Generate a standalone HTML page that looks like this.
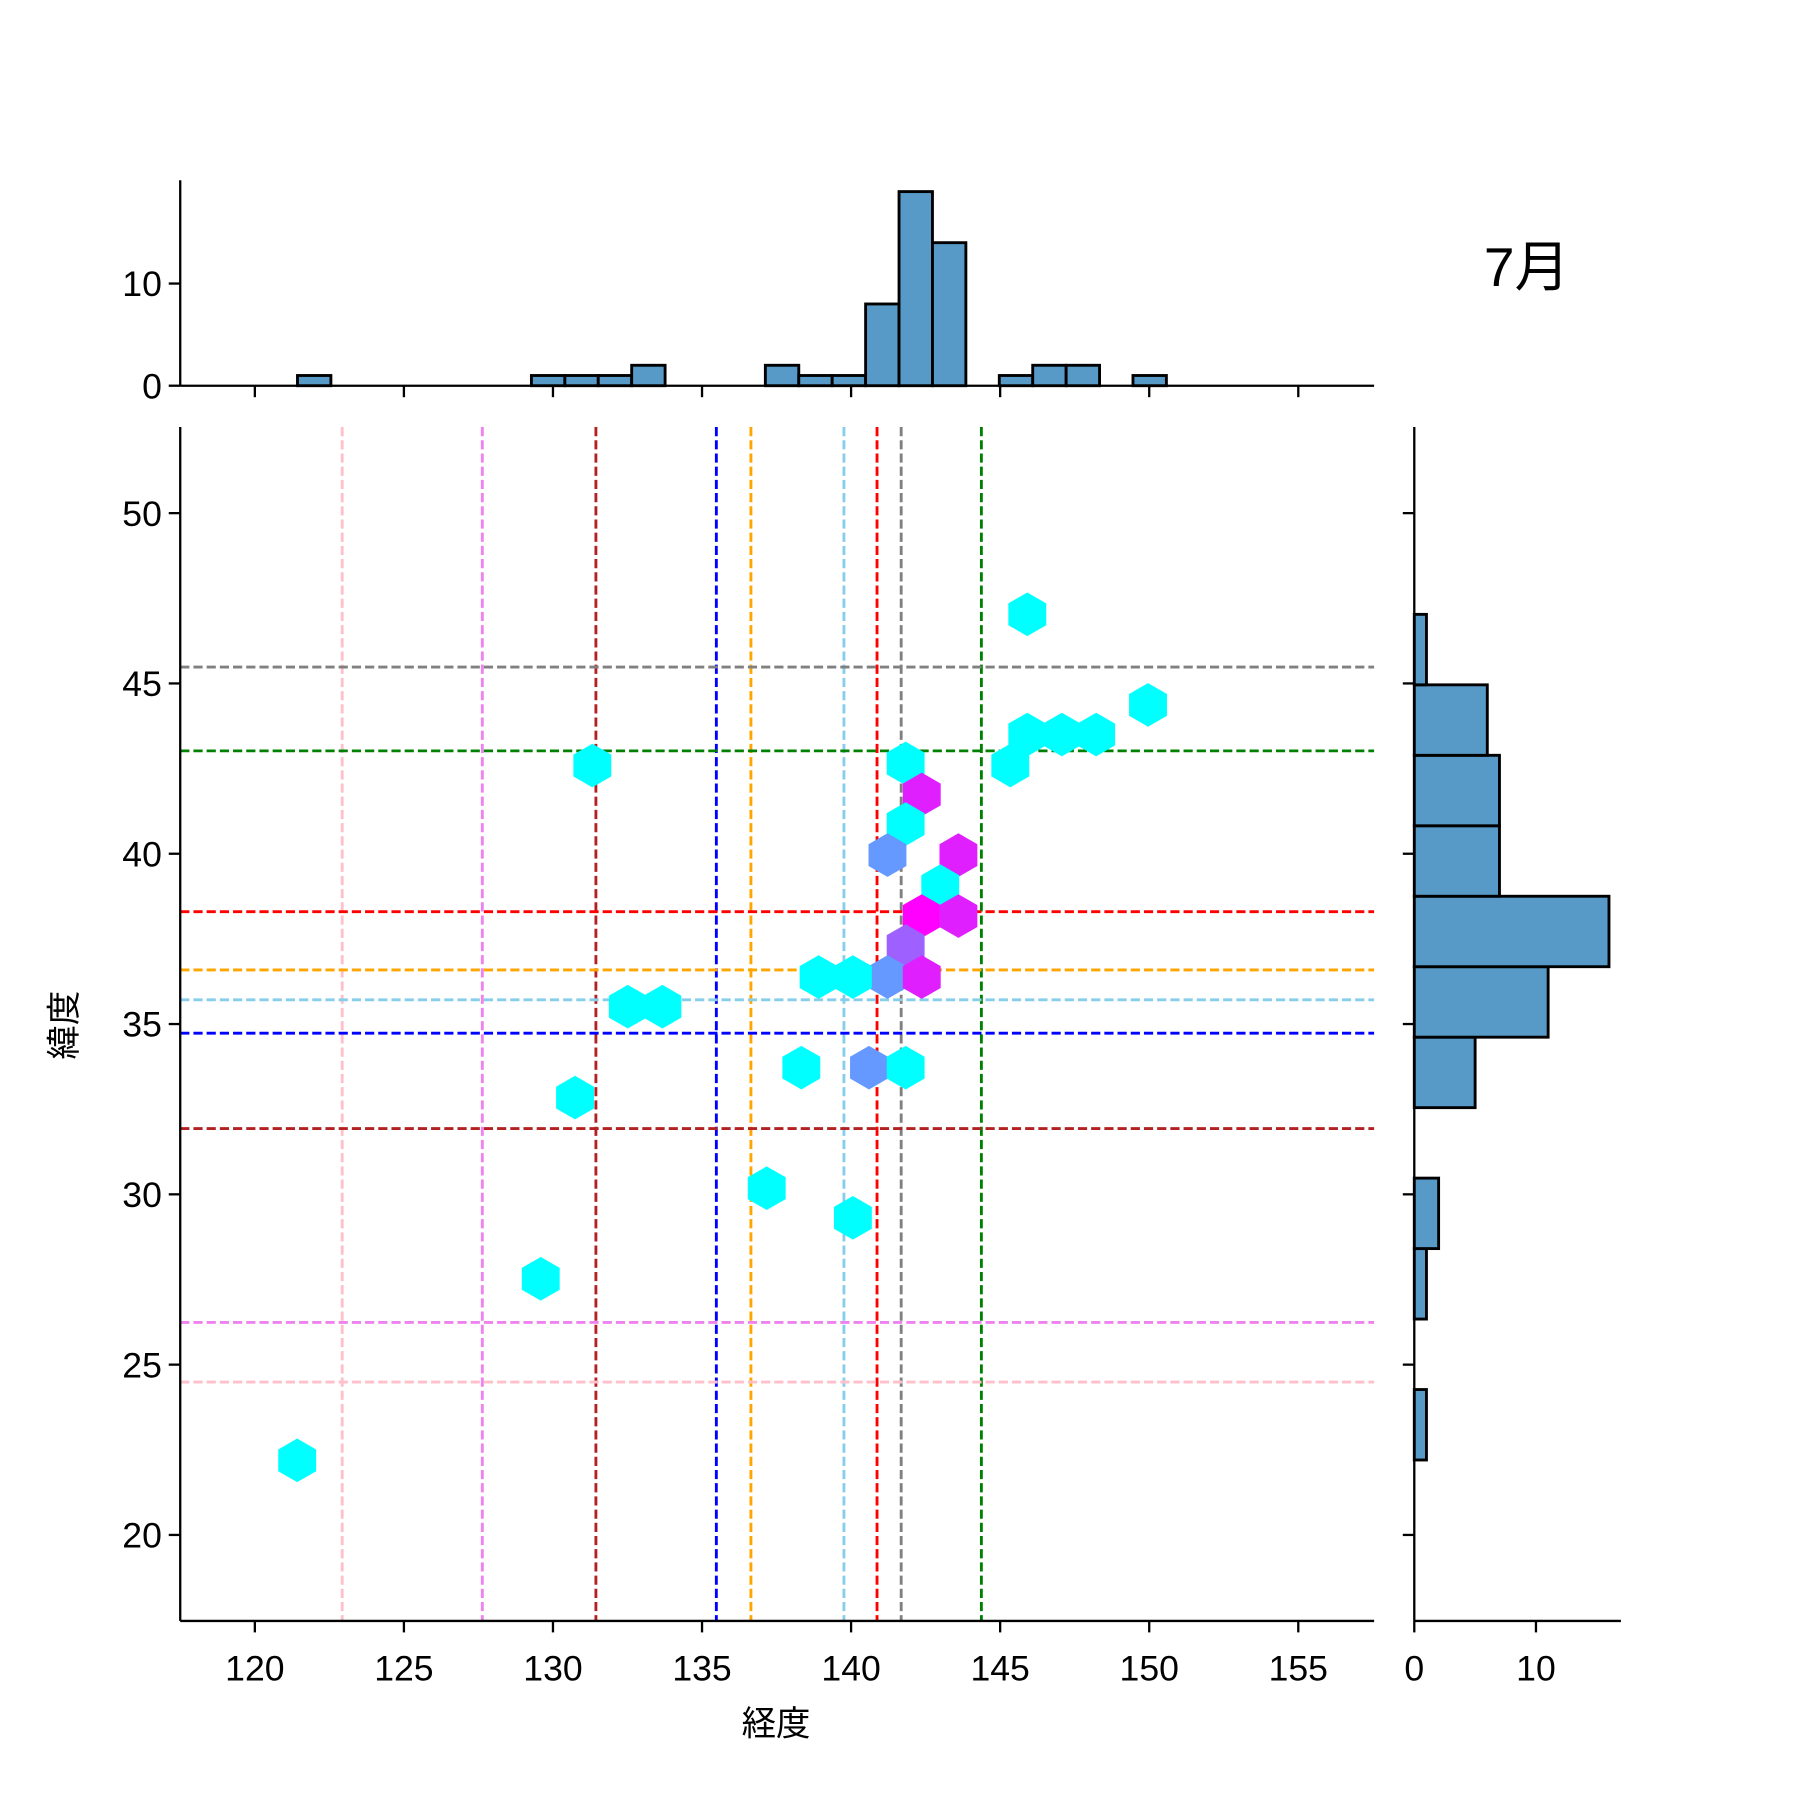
<!DOCTYPE html>
<html><head><meta charset="utf-8">
<style>
html,body{margin:0;padding:0;background:#fff;}
svg{display:block;}
text{font-family:"Liberation Sans","Noto Sans CJK JP",sans-serif;fill:#000;}
</style></head>
<body>
<svg id="chart" width="1800" height="1800" viewBox="0 0 1568 1568" xmlns="http://www.w3.org/2000/svg"></svg>
<script>
// ---- data ----
const hexLon = [145.91,149.96,145.91,147.07,148.22,145.34,131.32,141.83,142.37,141.83,141.22,143.60,142.99,142.37,143.60,141.83,141.22,142.37,138.91,140.06,132.51,133.67,138.33,140.60,141.83,130.74,137.17,140.06,129.59,121.42];
const hexLat = [47.03,44.37,43.50,43.50,43.50,42.59,42.59,42.65,41.74,40.87,39.96,39.96,39.05,38.17,38.17,37.29,36.38,36.38,36.38,36.38,35.51,35.51,33.72,33.72,33.72,32.84,30.18,29.31,27.52,22.19];
const hexLevel = [0,0,0,0,0,0,0,0,0.88,0,0.4,0.88,0,1,0.88,0.62,0.4,0.88,0,0,0,0,0,0.4,0,0,0,0,0,0];
const lonCounts = [1,0,0,0,0,0,0,1,1,1,2,0,0,0,2,1,1,8,19,14,0,1,2,2,0,1];
const lonBinStart = 121.43, lonBinWidth = 1.121;
const latCounts = [1,0,1,2,0,5,11,16,7,7,6,1]; // from bottom bin upward
const latBinStart = 22.2, latBinWidth = 2.069;
const vLineLon = [122.93,127.63,131.44,135.48,136.64,139.76,140.87,141.68,144.37];
const vLineColor = ['pink','violet','firebrick','blue','orange','skyblue','red','gray','green'];
const hLineLat = [45.48,43.02,38.30,36.59,35.71,34.73,31.93,26.24,24.49];
const hLineColor = ['gray','green','red','orange','skyblue','blue','firebrick','violet','pink'];
const xTicks = [120,125,130,135,140,145,150,155];
const yTicks = [20,25,30,35,40,45,50];
const topTicks = [0,10];
const rightTicks = [0,10];

// ---- axes ----
const M = {l:157,r:1197,t:372,b:1412};
const X = v => 222 + (v-120)*25.97;
const Y = v => 447 - (v-50)*29.67;
const TOP = {t:157,b:336};
const HY = c => 336 - c*8.9;
const RX = c => 1232 + c*10.6;
const svg = document.getElementById('chart');
const NS = 'http://www.w3.org/2000/svg';
function mk(tag, attrs, parent){const e=document.createElementNS(NS,tag);for(const k in attrs)e.setAttribute(k,attrs[k]);(parent||svg).appendChild(e);return e;}
function txt(s,x,y,size,anchor,parent){const t=mk('text',{x:x,y:y,'font-size':size,'text-anchor':anchor||'middle'},parent);t.textContent=s;return t;}

// dashed lines
vLineLon.forEach((v,i)=>{const l=mk('line',{x1:X(v),x2:X(v),y1:M.t,y2:M.b,stroke:vLineColor[i],'stroke-width':2.5,'stroke-dasharray':'8,3.5'});

});
hLineLat.forEach((v,i)=>{const l=mk('line',{x1:M.l,x2:M.r,y1:Y(v),y2:Y(v),stroke:hLineColor[i],'stroke-width':2.5,'stroke-dasharray':'8,3.5'});

});

// hexagons
function cool(t){return 'rgb('+Math.round(255*t)+','+Math.round(255*(1-t))+',255)';}
hexLon.forEach((v,i)=>{const cx=X(v),cy=Y(hexLat[i]),R=19,w=16.5;
const pts=[[cx,cy-R],[cx+w,cy-R/2],[cx+w,cy+R/2],[cx,cy+R],[cx-w,cy+R/2],[cx-w,cy-R/2]].map(p=>p.join(',')).join(' ');
const h=mk('polygon',{points:pts,fill:cool(hexLevel[i])});

});

// main axes spines
mk('line',{x1:M.l,x2:M.l,y1:M.t,y2:M.b,stroke:'#000','stroke-width':2});
mk('line',{x1:M.l,x2:M.r,y1:M.b,y2:M.b,stroke:'#000','stroke-width':2});
xTicks.forEach(v=>{mk('line',{x1:X(v),x2:X(v),y1:M.b,y2:M.b+10,stroke:'#000','stroke-width':2});
const t=txt(String(v),X(v),M.b+52,31);


mk('line',{x1:X(v),x2:X(v),y1:TOP.b,y2:TOP.b+10,stroke:'#000','stroke-width':2});});
yTicks.forEach(v=>{mk('line',{x1:M.l,x2:M.l-10,y1:Y(v),y2:Y(v),stroke:'#000','stroke-width':2});
const t=txt(String(v),M.l-16,Y(v)+11,31,'end');


mk('line',{x1:1232,x2:1222,y1:Y(v),y2:Y(v),stroke:'#000','stroke-width':2});});
const xl=txt('経度',676,1512,30);


const yl=txt('緯度',0,0,30);
yl.setAttribute('transform','translate(66,893) rotate(-90)');



// top histogram
lonCounts.forEach((c,i)=>{if(!c)return;const x0=X(lonBinStart+i*lonBinWidth),x1=X(lonBinStart+(i+1)*lonBinWidth);
const b=mk('rect',{x:x0,y:HY(c),width:x1-x0,height:HY(0)-HY(c),fill:'#5799c7',stroke:'#000','stroke-width':2.5});

});
mk('line',{x1:M.l,x2:M.l,y1:TOP.t,y2:TOP.b,stroke:'#000','stroke-width':2});
mk('line',{x1:M.l,x2:M.r,y1:TOP.b,y2:TOP.b,stroke:'#000','stroke-width':2});
topTicks.forEach(v=>{mk('line',{x1:M.l,x2:M.l-10,y1:HY(v),y2:HY(v),stroke:'#000','stroke-width':2});
const t=txt(String(v),M.l-16,HY(v)+11,31,'end');

});

// right histogram
latCounts.forEach((c,i)=>{if(!c)return;const y0=Y(latBinStart+(i+1)*latBinWidth),y1=Y(latBinStart+i*latBinWidth);
const b=mk('rect',{x:RX(0),y:y0,width:RX(c)-RX(0),height:y1-y0,fill:'#5799c7',stroke:'#000','stroke-width':2.5});

});
mk('line',{x1:1232,x2:1232,y1:M.t,y2:M.b,stroke:'#000','stroke-width':2});
mk('line',{x1:1232,x2:1412,y1:M.b,y2:M.b,stroke:'#000','stroke-width':2});
rightTicks.forEach(v=>{mk('line',{x1:RX(v),x2:RX(v),y1:M.b,y2:M.b+10,stroke:'#000','stroke-width':2});
const t=txt(String(v),RX(v),M.b+52,31);

});

const title=txt('7月',1330,249,48);


</script>
</body></html>
